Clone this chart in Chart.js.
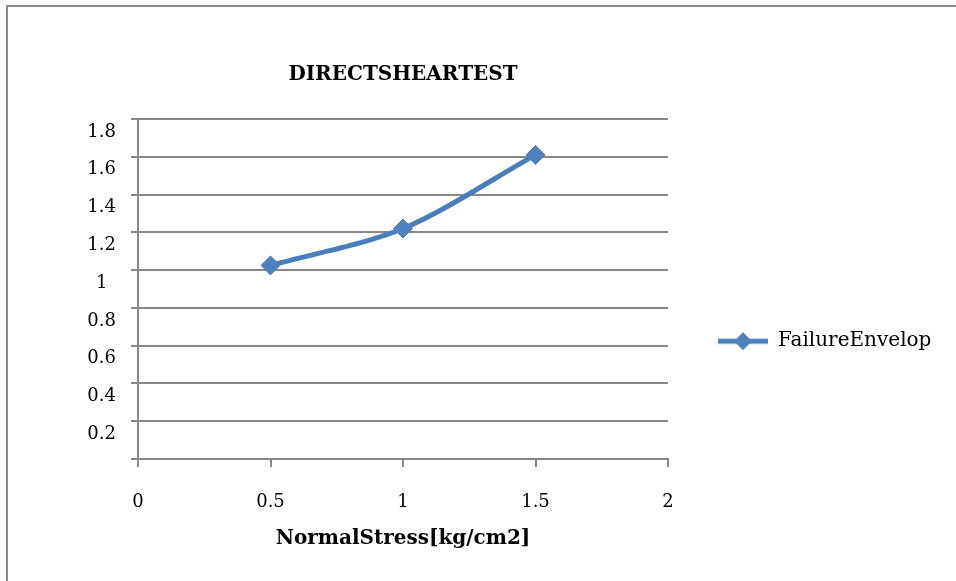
<!DOCTYPE html>
<html><head><meta charset="utf-8">
<script src="https://cdn.jsdelivr.net/npm/chart.js@4"></script>
<style>
html,body{margin:0;padding:0;background:#fff;}
#wrap{position:relative;width:956px;height:581px;overflow:hidden;background:#fff;}
#frame{position:absolute;left:6px;top:5px;width:1000px;height:1000px;border-top:2px solid #8a8a8a;border-left:2px solid #8a8a8a;pointer-events:none;}
canvas{position:absolute;left:0;top:0;}
</style></head><body>
<div id="wrap"><canvas id="c" width="956" height="581"></canvas><div id="frame"></div></div>
<script>
// ---- data ----
const chartTitle = 'DIRECTSHEARTEST';
const xAxisTitle = 'NormalStress[kg/cm2]';
const seriesName = 'FailureEnvelop';
const normalStress = [0.5, 1, 1.5];
const shearStress = [1.025, 1.22, 1.61];
const xTicks = [0, 0.5, 1, 1.5, 2];
const xTickLabels = ['0', '0.5', '1', '1.5', '2'];
const yTicks = [0, 0.2, 0.4, 0.6, 0.8, 1, 1.2, 1.4, 1.6, 1.8];
const yTickLabels = ['', '0.2', '0.4', '0.6', '0.8', '1', '1.2', '1.4', '1.6', '1.8'];

// ---- style ----
const FONT = 'DejaVu Serif';
const gridColor = '#888888';
const lineColor = '#4a7ebb';
const markerColor = '#4f81bd';
const legendFontSize = 20;
const legendPad = 50;
const legendIconW = 50;
const plotRight = 668;

// legend icon: line with diamond marker
const icon = document.createElement('canvas');
icon.width = legendIconW; icon.height = 20;
(function(){
  const g = icon.getContext('2d');
  g.strokeStyle = lineColor; g.lineWidth = 5;
  g.beginPath(); g.moveTo(0, 10); g.lineTo(50, 10); g.stroke();
  g.fillStyle = markerColor;
  g.beginPath(); g.moveTo(25, 1); g.lineTo(34, 10); g.lineTo(25, 19); g.lineTo(16, 10); g.closePath(); g.fill();
})();

// size the right margin so the legend box starts at the plot's right edge
const mctx = document.createElement('canvas').getContext('2d');
mctx.font = legendFontSize + 'px "' + FONT + '"';
const legendTextW = mctx.measureText(seriesName).width;
const legendW = legendPad + legendIconW + legendFontSize / 2 + legendTextW + 10;
const padRight = Math.max(0, 956 - plotRight - legendW);

new Chart(document.getElementById('c'), {
  type: 'line',
  data: {
    datasets: [{
      label: seriesName,
      data: normalStress.map((x, i) => ({x: x, y: shearStress[i]})),
      borderColor: lineColor,
      backgroundColor: markerColor,
      borderWidth: 5,
      tension: 0.3,
      fill: false,
      pointStyle: 'rectRot',
      pointRadius: 9.5,
      pointBorderWidth: 1,
      pointBackgroundColor: markerColor,
      pointBorderColor: lineColor
    }]
  },
  options: {
    responsive: false,
    animation: false,
    devicePixelRatio: 1,
    layout: {padding: {left: 0, right: padRight, top: 0, bottom: 0}},
    plugins: {
      tooltip: {enabled: false},
      title: {
        display: true,
        text: chartTitle,
        fullSize: false,
        color: '#000',
        font: {family: FONT, size: 20, weight: 'bold'},
        padding: {top: 63, bottom: 32}
      },
      legend: {
        position: 'right',
        align: 'center',
        maxWidth: 600,
        title: {display: true, text: ' ', padding: {top: 0, bottom: 87}, font: {size: 12}},
        labels: {
          usePointStyle: true,
          pointStyleWidth: legendIconW,
          padding: legendPad,
          color: '#000',
          font: {family: FONT, size: legendFontSize},
          generateLabels: chart => chart.data.datasets.map((ds, i) => ({
            text: ds.label, pointStyle: icon, datasetIndex: i, hidden: false,
            lineWidth: 0, fillStyle: ds.backgroundColor, strokeStyle: ds.borderColor, fontColor: '#000'
          }))
        }
      }
    },
    scales: {
      x: {
        type: 'linear', min: 0, max: 2,
        afterBuildTicks: s => { s.ticks = xTicks.map(v => ({value: v})); },
        afterFit: s => { s.height = 122; },
        grid: {drawOnChartArea: false, drawTicks: true, tickLength: 8, color: gridColor, lineWidth: 2},
        border: {display: true, color: gridColor, width: 2},
        ticks: {padding: 25, autoSkip: false, maxRotation: 0, color: '#000',
          font: {family: FONT, size: 18},
          callback: (v, i) => xTickLabels[i]},
        title: {display: true, text: xAxisTitle, color: '#000',
          font: {family: FONT, size: 20, weight: 'bold'},
          padding: {top: 0, bottom: 30}}
      },
      y: {
        type: 'linear', min: 0, max: 1.8,
        afterBuildTicks: s => { s.ticks = yTicks.map(v => ({value: v})); },
        afterFit: s => { s.width = 138; },
        grid: {color: gridColor, lineWidth: 2, tickLength: 7, drawTicks: true},
        border: {display: true, color: gridColor, width: 2},
        ticks: {crossAlign: 'center', padding: 15, labelOffset: 13, autoSkip: false, color: '#000',
          font: {family: FONT, size: 18},
          callback: (v, i) => yTickLabels[i]}
      }
    }
  }
});
</script>
</body></html>
